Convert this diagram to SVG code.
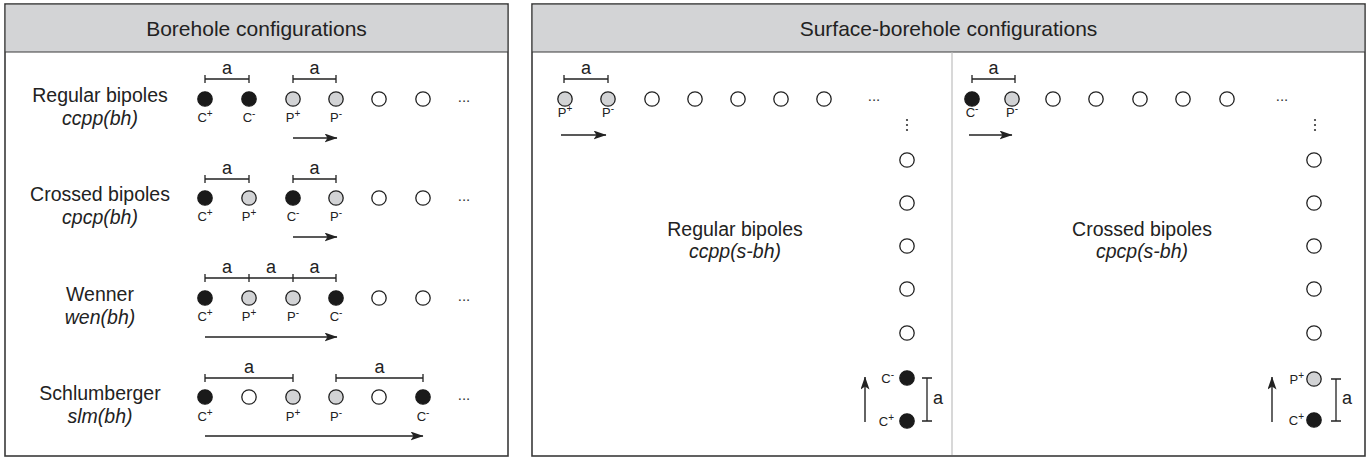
<svg xmlns="http://www.w3.org/2000/svg" width="1370" height="460" viewBox="0 0 1370 460">
<style>
.panel{fill:#fff;stroke:#3a3a3a;stroke-width:1.6}
.hdr{fill:#d3d4d6}
.hline{stroke:#3a3a3a;stroke-width:1.2}
.div{stroke:#c8c8c8;stroke-width:1.4}
.ttl{font-family:"Liberation Sans",Arial,sans-serif;font-size:21px;fill:#222;text-anchor:middle}
.nm{font-family:"Liberation Sans",Arial,sans-serif;font-size:19.5px;fill:#222;text-anchor:middle}
.it{font-family:"Liberation Sans",Arial,sans-serif;font-size:19.5px;font-style:italic;fill:#222;text-anchor:middle}
.a{font-family:"Liberation Sans",Arial,sans-serif;font-size:18px;fill:#222;text-anchor:middle}
.as{font-family:"Liberation Sans",Arial,sans-serif;font-size:18px;fill:#222;text-anchor:start}
.lb{font-family:"Liberation Sans",Arial,sans-serif;font-size:13px;fill:#222;text-anchor:middle}
.le{font-family:"Liberation Sans",Arial,sans-serif;font-size:13px;fill:#222;text-anchor:end}
.sup{font-size:10px}
.el{font-family:"Liberation Sans",Arial,sans-serif;font-size:15px;fill:#333;text-anchor:middle}
.cb{fill:#1a1a1a;stroke:#1a1a1a;stroke-width:1.3}
.cg{fill:#d2d3d5;stroke:#222;stroke-width:1.3}
.cw{fill:#fff;stroke:#222;stroke-width:1.3}
.br{fill:none;stroke:#222;stroke-width:1.3}
.ar{fill:none;stroke:#222;stroke-width:1.4;marker-end:url(#ah)}
.dot{fill:#333}
</style>
<defs>
<marker id="ah" viewBox="0 0 13 9" refX="12.5" refY="4.5" markerWidth="13" markerHeight="9" markerUnits="userSpaceOnUse" orient="auto">
<path d="M0,0 L13,4.5 L0,9 L3,4.5 z" fill="#222"/>
</marker>
</defs>

<!-- Left panel -->
<g id="panel-borehole">
<rect class="panel" x="5" y="4" width="503" height="452"/>
<rect class="hdr" x="5.8" y="4.8" width="501.4" height="47.2"/>
<line class="hline" x1="5" y1="52" x2="508" y2="52"/>
<text class="ttl" x="256.5" y="36">Borehole configurations</text>
</g>

<!-- Right panel -->
<g id="panel-surface">
<rect class="panel" x="532" y="4" width="833" height="452"/>
<rect class="hdr" x="532.8" y="4.8" width="831.4" height="47.2"/>
<line class="hline" x1="532" y1="52" x2="1365" y2="52"/>
<line class="div" x1="952" y1="52.6" x2="952" y2="455"/>
<text class="ttl" x="948.5" y="36">Surface-borehole configurations</text>
</g>

<!-- Row 1: Regular bipoles -->
<g id="row-ccpp-bh">
<text class="nm" x="100" y="102">Regular bipoles</text>
<text class="it" x="100" y="125">ccpp(bh)</text>
<path class="br" d="M205,79 H249 M205,75 V83 M249,75 V83"/>
<path class="br" d="M293,79 H336 M293,75 V83 M336,75 V83"/>
<text class="a" x="227" y="74">a</text>
<text class="a" x="314.5" y="74">a</text>
<circle class="cb" cx="205" cy="99" r="7.2"/>
<circle class="cb" cx="249" cy="99" r="7.2"/>
<circle class="cg" cx="293" cy="99" r="7.2"/>
<circle class="cg" cx="336" cy="99" r="7.2"/>
<circle class="cw" cx="379" cy="99" r="7.2"/>
<circle class="cw" cx="423" cy="99" r="7.2"/>
<text class="el" x="464" y="102">...</text>
<text class="lb" x="205" y="122">C<tspan class="sup" dy="-5">+</tspan></text>
<text class="lb" x="249" y="122">C<tspan class="sup" dy="-5">-</tspan></text>
<text class="lb" x="293" y="122">P<tspan class="sup" dy="-5">+</tspan></text>
<text class="lb" x="336" y="122">P<tspan class="sup" dy="-5">-</tspan></text>
</g>

<!-- Row 2: Crossed bipoles -->
<g id="row-cpcp-bh">
<text class="nm" x="100" y="201">Crossed bipoles</text>
<text class="it" x="100" y="224">cpcp(bh)</text>
<path class="br" d="M205,179 H249 M205,175 V183 M249,175 V183"/>
<path class="br" d="M293,179 H336 M293,175 V183 M336,175 V183"/>
<text class="a" x="227" y="174">a</text>
<text class="a" x="314.5" y="174">a</text>
<circle class="cb" cx="205" cy="198" r="7.2"/>
<circle class="cg" cx="249" cy="198" r="7.2"/>
<circle class="cb" cx="293" cy="198" r="7.2"/>
<circle class="cg" cx="336" cy="198" r="7.2"/>
<circle class="cw" cx="379" cy="198" r="7.2"/>
<circle class="cw" cx="423" cy="198" r="7.2"/>
<text class="el" x="464" y="201">...</text>
<text class="lb" x="205" y="221">C<tspan class="sup" dy="-5">+</tspan></text>
<text class="lb" x="249" y="221">P<tspan class="sup" dy="-5">+</tspan></text>
<text class="lb" x="293" y="221">C<tspan class="sup" dy="-5">-</tspan></text>
<text class="lb" x="336" y="221">P<tspan class="sup" dy="-5">-</tspan></text>
</g>

<!-- Row 3: Wenner -->
<g id="row-wen-bh">
<text class="nm" x="100" y="301">Wenner</text>
<text class="it" x="100" y="324">wen(bh)</text>
<path class="br" d="M205,278 H336 M205,274 V282 M249,274 V282 M293,274 V282 M336,274 V282"/>
<text class="a" x="227" y="273">a</text>
<text class="a" x="271" y="273">a</text>
<text class="a" x="314.5" y="273">a</text>
<circle class="cb" cx="205" cy="298" r="7.2"/>
<circle class="cg" cx="249" cy="298" r="7.2"/>
<circle class="cg" cx="293" cy="298" r="7.2"/>
<circle class="cb" cx="336" cy="298" r="7.2"/>
<circle class="cw" cx="379" cy="298" r="7.2"/>
<circle class="cw" cx="423" cy="298" r="7.2"/>
<text class="el" x="464" y="301">...</text>
<text class="lb" x="205" y="321">C<tspan class="sup" dy="-5">+</tspan></text>
<text class="lb" x="249" y="321">P<tspan class="sup" dy="-5">+</tspan></text>
<text class="lb" x="293" y="321">P<tspan class="sup" dy="-5">-</tspan></text>
<text class="lb" x="336" y="321">C<tspan class="sup" dy="-5">-</tspan></text>
</g>

<!-- Row 4: Schlumberger -->
<g id="row-slm-bh">
<text class="nm" x="100" y="400">Schlumberger</text>
<text class="it" x="100" y="423">slm(bh)</text>
<path class="br" d="M205,378 H293 M205,374 V382 M293,374 V382"/>
<path class="br" d="M336,378 H423 M336,374 V382 M423,374 V382"/>
<text class="a" x="249" y="373">a</text>
<text class="a" x="379.5" y="373">a</text>
<circle class="cb" cx="205" cy="397" r="7.2"/>
<circle class="cw" cx="249" cy="397" r="7.2"/>
<circle class="cg" cx="293" cy="397" r="7.2"/>
<circle class="cg" cx="336" cy="397" r="7.2"/>
<circle class="cw" cx="379" cy="397" r="7.2"/>
<circle class="cb" cx="423" cy="397" r="7.2"/>
<text class="el" x="464" y="400">...</text>
<text class="lb" x="205" y="421">C<tspan class="sup" dy="-5">+</tspan></text>
<text class="lb" x="293" y="421">P<tspan class="sup" dy="-5">+</tspan></text>
<text class="lb" x="336" y="421">P<tspan class="sup" dy="-5">-</tspan></text>
<text class="lb" x="423" y="421">C<tspan class="sup" dy="-5">-</tspan></text>
</g>

<!-- Surface-borehole: regular bipoles -->
<g id="sbh-ccpp">
<text class="nm" x="735" y="236">Regular bipoles</text>
<text class="it" x="735" y="258">ccpp(s-bh)</text>
<path class="br" d="M564,79 H608 M564,75 V83 M608,75 V83"/>
<text class="a" x="586" y="74">a</text>
<circle class="cg" cx="565" cy="99" r="7.2"/>
<circle class="cg" cx="608" cy="99" r="7.2"/>
<circle class="cw" cx="652" cy="99" r="7.2"/>
<circle class="cw" cx="695" cy="99" r="7.2"/>
<circle class="cw" cx="738" cy="99" r="7.2"/>
<circle class="cw" cx="781" cy="99" r="7.2"/>
<circle class="cw" cx="824" cy="99" r="7.2"/>
<text class="el" x="874" y="101">...</text>
<text class="lb" x="565" y="117">P<tspan class="sup" dy="-5">+</tspan></text>
<text class="lb" x="608" y="117">P<tspan class="sup" dy="-5">-</tspan></text>
<circle class="dot" cx="907" cy="120" r="1.1"/>
<circle class="dot" cx="907" cy="125" r="1.1"/>
<circle class="dot" cx="907" cy="130" r="1.1"/>
<circle class="cw" cx="907" cy="160" r="7.2"/>
<circle class="cw" cx="907" cy="203" r="7.2"/>
<circle class="cw" cx="907" cy="246" r="7.2"/>
<circle class="cw" cx="907" cy="289" r="7.2"/>
<circle class="cw" cx="907" cy="333" r="7.2"/>
<circle class="cb" cx="907" cy="378" r="7.2"/>
<circle class="cb" cx="907" cy="421" r="7.2"/>
<text class="le" x="894" y="383">C<tspan class="sup" dy="-5">-</tspan></text>
<text class="le" x="894" y="426">C<tspan class="sup" dy="-5">+</tspan></text>
<path class="br" d="M927,378 V421 M922,378 H932 M922,421 H932"/>
<text class="as" x="933" y="404">a</text>
</g>

<!-- Surface-borehole: crossed bipoles -->
<g id="sbh-cpcp">
<text class="nm" x="1142" y="236">Crossed bipoles</text>
<text class="it" x="1142" y="258">cpcp(s-bh)</text>
<path class="br" d="M972,79 H1015 M972,75 V83 M1015,75 V83"/>
<text class="a" x="993.5" y="74">a</text>
<circle class="cb" cx="972" cy="99" r="7.2"/>
<circle class="cg" cx="1012" cy="99" r="7.2"/>
<circle class="cw" cx="1053" cy="99" r="7.2"/>
<circle class="cw" cx="1096" cy="99" r="7.2"/>
<circle class="cw" cx="1140" cy="99" r="7.2"/>
<circle class="cw" cx="1183" cy="99" r="7.2"/>
<circle class="cw" cx="1227" cy="99" r="7.2"/>
<text class="el" x="1282" y="101">...</text>
<text class="lb" x="972" y="117">C<tspan class="sup" dy="-5">-</tspan></text>
<text class="lb" x="1012" y="117">P<tspan class="sup" dy="-5">-</tspan></text>
<circle class="dot" cx="1315" cy="120" r="1.1"/>
<circle class="dot" cx="1315" cy="125" r="1.1"/>
<circle class="dot" cx="1315" cy="130" r="1.1"/>
<circle class="cw" cx="1314" cy="160" r="7.2"/>
<circle class="cw" cx="1314" cy="203" r="7.2"/>
<circle class="cw" cx="1314" cy="246" r="7.2"/>
<circle class="cw" cx="1314" cy="289" r="7.2"/>
<circle class="cw" cx="1314" cy="333" r="7.2"/>
<circle class="cg" cx="1314" cy="379" r="7.2"/>
<circle class="cb" cx="1314" cy="420" r="7.2"/>
<text class="le" x="1304" y="384">P<tspan class="sup" dy="-5">+</tspan></text>
<text class="le" x="1304" y="425">C<tspan class="sup" dy="-5">+</tspan></text>
<path class="br" d="M1336,379 V421 M1331,379 H1341 M1331,421 H1341"/>
<text class="as" x="1342" y="404">a</text>
</g>

<!-- Connectors (direction arrows) -->
<g id="connectors">
<line class="ar" x1="293" y1="138" x2="337" y2="138"/>
<line class="ar" x1="293" y1="237" x2="337" y2="237"/>
<line class="ar" x1="205" y1="337" x2="337" y2="337"/>
<line class="ar" x1="205" y1="436" x2="423" y2="436"/>
<line class="ar" x1="561" y1="135" x2="606" y2="135"/>
<line class="ar" x1="969" y1="135" x2="1012" y2="135"/>
<line class="ar" x1="865" y1="422" x2="865" y2="377"/>
<line class="ar" x1="1272" y1="422" x2="1272" y2="377"/>
</g>
</svg>
